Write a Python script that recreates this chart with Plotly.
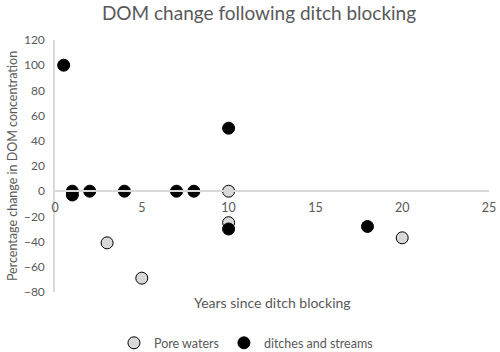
import plotly.graph_objects as go

pore_x = [3, 5, 10, 10, 20]
pore_y = [-41, -69, 0, -25, -37]
ditch_x = [0.5, 1, 1, 2, 4, 7, 8, 10, 10, 18]
ditch_y = [100, 0, -3, 0, 0, 0, 0, 50, -30, -28]

FONT = "Lato"
GRAY = "#595959"

fig = go.Figure()
fig.add_trace(go.Scatter(x=pore_x, y=pore_y, mode="markers", name="Pore waters",
                         marker=dict(size=12, color="#d9d9d9", line=dict(color="#000000", width=1))))
fig.add_trace(go.Scatter(x=ditch_x, y=ditch_y, mode="markers", name="ditches and streams",
                         marker=dict(size=12, color="#000000", line=dict(color="#000000", width=1))))

fig.update_layout(
    width=500, height=352,
    margin=dict(l=55, r=11, t=40, b=60, autoexpand=False),
    paper_bgcolor="white", plot_bgcolor="white",
    font=dict(family=FONT, color=GRAY, size=12),
    title=dict(text="DOM change following ditch blocking", x=0.518, xanchor="center",
               y=0.962, yanchor="middle", font=dict(size=19, color=GRAY, family=FONT)),
    xaxis=dict(range=[0, 25], tickvals=[0, 5, 10, 15, 20, 25], showgrid=False, zeroline=False,
               showline=True, linecolor="#d9d9d9", linewidth=1.5, anchor="free", position=0.4,
               ticks="outside", ticklen=5, tickcolor="rgba(0,0,0,0)",
               tickfont=dict(size=12.5, color=GRAY), automargin=False),
    yaxis=dict(range=[-80, 120], tickvals=list(range(-80, 121, 20)), showgrid=False, zeroline=False,
               showline=True, linecolor="#d9d9d9", linewidth=1.5, ticks="outside", ticklen=6,
               tickcolor="rgba(0,0,0,0)", tickfont=dict(size=12, color=GRAY), automargin=False,
               title=dict(text="Percentage change in DOM concentration", font=dict(size=12.5, color=GRAY), standoff=4)),
    legend=dict(orientation="h", x=0.44, xanchor="center", yref="container", y=0.025, yanchor="middle",
                font=dict(size=12.5, color=GRAY), itemwidth=30),
    showlegend=True,
)
fig.add_annotation(text="Years since ditch blocking", x=0.5, xref="paper", y=-0.04, yref="paper",
                   yanchor="middle", showarrow=False, font=dict(size=14, color=GRAY, family=FONT))

fig.write_html("out.html", config={"displayModeBar": False},
               post_script="document.body.style.margin='0';document.body.style.padding='0';")
